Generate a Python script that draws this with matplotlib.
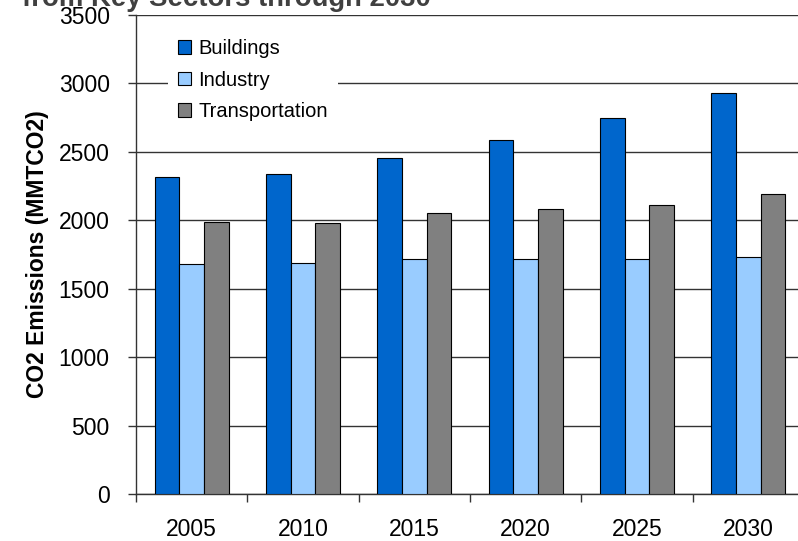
import matplotlib.pyplot as plt
import numpy as np

plt.rcParams['font.family'] = ['Liberation Sans', 'DejaVu Sans']

years = ['2005', '2010', '2015', '2020', '2025', '2030']
series_names = ['Buildings', 'Industry', 'Transportation']
buildings = [2315, 2335, 2455, 2585, 2745, 2930]
industry = [1680, 1690, 1715, 1715, 1715, 1735]
transportation = [1990, 1980, 2050, 2080, 2110, 2195]
colors = ['#0066CC', '#99CCFF', '#808080']

fig = plt.figure(figsize=(7.98, 5.41), dpi=100)
ax = fig.add_axes([136 / 798, 47 / 541, 668 / 798, 479 / 541])

x = np.arange(len(years))
width = 1 / 4.5
for i, (name, vals) in enumerate(zip(series_names, [buildings, industry, transportation])):
    ax.bar(x + (i - 1) * width, vals, width, color=colors[i], edgecolor='black',
           linewidth=0.8, label=name, zorder=3)

ax.set_xlim(-0.5, len(years) - 0.5)
ax.set_ylim(0, 3500)
ax.set_yticks(np.arange(0, 3501, 500))
ax.yaxis.grid(True, color='#333333', linewidth=1)
ax.set_axisbelow(True)

# category ticks sit on the boundaries, labels in the middle
ax.set_xticks(np.arange(-0.5, len(years), 1))
ax.set_xticklabels([])
ax.set_xticks(x, minor=True)
ax.set_xticklabels(years, minor=True, fontsize=16.5)
ax.tick_params(axis='x', which='major', length=6, color='#333333', width=1)
ax.tick_params(axis='x', which='minor', length=0, pad=17)
ax.tick_params(axis='y', length=6, color='#333333', width=1, labelsize=16.5, pad=13)

for s in ['top', 'right']:
    ax.spines[s].set_visible(False)
for s in ['left', 'bottom']:
    ax.spines[s].set_color('#333333')
    ax.spines[s].set_linewidth(1)

ax.set_ylabel('CO2 Emissions (MMTCO2)', fontsize=16.5, fontweight='bold', labelpad=7)

leg = ax.legend(loc='upper left', bbox_to_anchor=(158 / 798, 1 - 19 / 541),
                bbox_transform=fig.transFigure, fontsize=14.5, frameon=True,
                fancybox=False, edgecolor='none', facecolor='white', framealpha=1,
                handlelength=0.65, handleheight=0.65, handletextpad=0.35,
                labelspacing=0.62, borderpad=0.5)

fig.text(22 / 798, 1 - 6 / 541, 'from Key Sectors through 2030', fontsize=19.8,
         fontweight='bold', color='#404040', ha='left', va='baseline')

fig.savefig('out.png', dpi=100)
